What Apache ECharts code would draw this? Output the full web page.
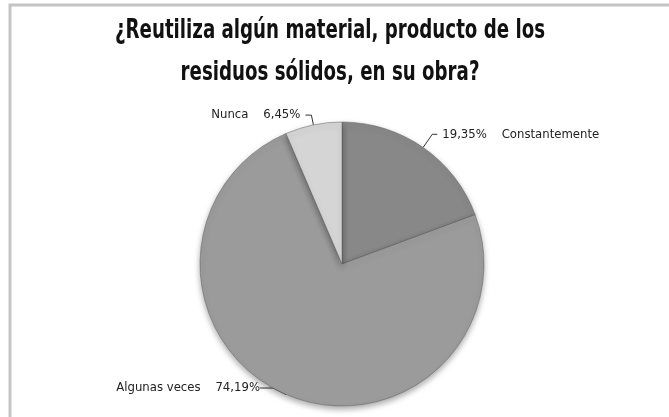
<!DOCTYPE html>
<html><head><meta charset="utf-8">
<script src="https://cdn.jsdelivr.net/npm/echarts@6/dist/echarts.min.js"></script>
<style>html,body{margin:0;padding:0;background:#fff}#c{width:669px;height:417px}</style>
</head><body><div id="c"></div>
<script>
var titleLines = ['¿Reutiliza algún material, producto de los', 'residuos sólidos, en su obra?'];
var categories = ['Constantemente', 'Algunas veces', 'Nunca'];
var values = [19.35, 74.19, 6.45];
var colors = ['#888888', '#9b9b9b', '#d5d5d5'];
var labelOrder = ['pctFirst', 'nameFirst', 'nameFirst'];
var lineLens = [[16, 5], [8, 13], [10, 6]];

function fmt(v){ return v.toFixed(2).replace('.', ','); }
var FONT = '"DejaVu Sans Condensed","DejaVu Sans",sans-serif';

var data = categories.map(function(c, i){
  return {
    name: c, value: values[i],
    itemStyle: {color: colors[i]},
    label: {formatter: labelOrder[i] === 'pctFirst' ? fmt(values[i]) + '%    ' + c : c + '    ' + fmt(values[i]) + '%'},
    labelLine: {length: lineLens[i][0], length2: lineLens[i][1]}
  };
});

var titleGraphics = titleLines.map(function(t, i){
  return {
    type: 'text', x: 330, y: 31 + i * 42, scaleX: 0.75, silent: true,
    style: {text: t, x: 0, y: 0, align: 'center', verticalAlign: 'middle',
      font: 'bold 27px ' + FONT, fill: '#111'}
  };
});

var chart = echarts.init(document.getElementById('c'));
chart.setOption({
  animation: false,
  graphic: [{
    type: 'rect', shape: {x: 10, y: 5, width: 700, height: 450},
    style: {fill: 'none', stroke: '#c4c4c4', lineWidth: 3}, silent: true
  }].concat(titleGraphics),
  series: [{
    type: 'pie',
    center: [342, 264],
    radius: 142,
    startAngle: 90,
    clockwise: true,
    data: data,
    itemStyle: {borderColor: 'rgba(90,90,90,0.6)', borderWidth: 0.8, shadowBlur: 6, shadowColor: 'rgba(0,0,0,0.35)', shadowOffsetY: 3},
    label: {show: true, position: 'outside', color: '#222', fontSize: 13, fontFamily: FONT},
    labelLine: {show: true, lineStyle: {color: '#333', width: 1}},
    labelLayout: function(p){
      if (p.dataIndex === 1) { return {x: 260, y: 388, align: 'right'}; }
      return {};
    }
  }]
});
</script></body></html>
